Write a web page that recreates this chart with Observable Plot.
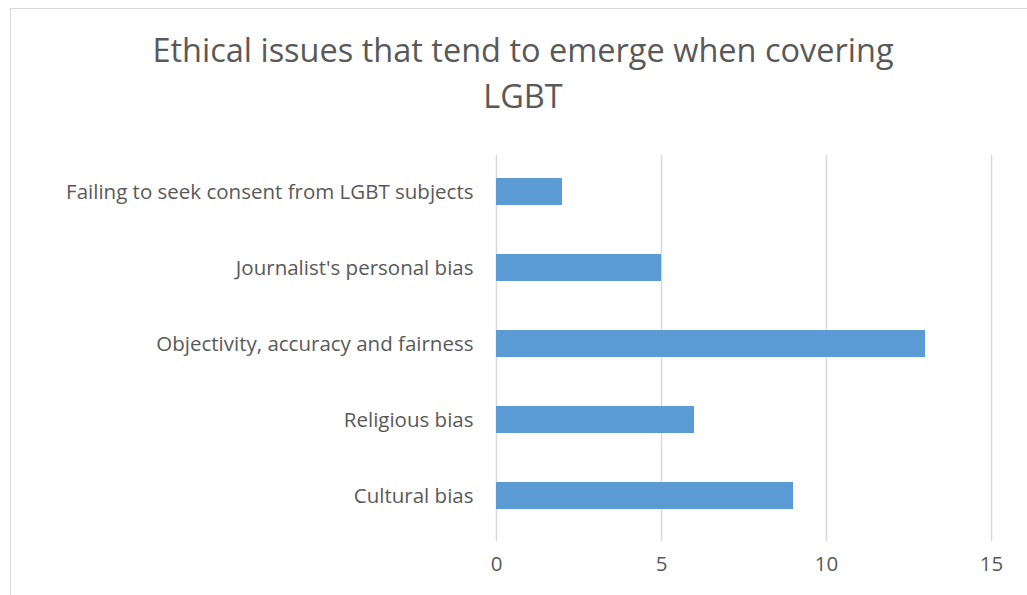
<!DOCTYPE html>
<html>
<head>
<meta charset="utf-8">
<script src="https://cdn.jsdelivr.net/npm/d3@7"></script>
<script src="https://cdn.jsdelivr.net/npm/@observablehq/plot@0.6"></script>
<style>
  html, body { margin: 0; padding: 0; background: #fff; }
  #wrap { position: relative; width: 1027px; height: 595px; overflow: hidden; font-family: "Open Sans", sans-serif; }
  #frame { position: absolute; left: 10px; top: 8px; width: 1200px; height: 800px; border-left: 1.5px solid #d9d9d9; border-top: 1.5px solid #d9d9d9; }
  #title { position: relative; height: 140px; width: 1046px; text-align: center; color: #595959; font-size: 32.5px; line-height: 46px; padding-top: 27px; box-sizing: border-box; }
  #chart { position: relative; }
</style>
</head>
<body>
<div id="wrap">
  <div id="frame"></div>
  <div id="title">Ethical issues that tend to emerge when covering<br>LGBT</div>
  <div id="chart"></div>
</div>
<script>
const categories = [
  "Failing to seek consent from LGBT subjects",
  "Journalist's personal bias",
  "Objectivity, accuracy and fairness",
  "Religious bias",
  "Cultural bias"
];
const values = [2, 5, 13, 6, 9];
const xTicks = [0, 5, 10, 15];

const data = categories.map((c, i) => ({category: c, value: values[i]}));

const chart = Plot.plot({
  width: 1027,
  height: 455,
  marginLeft: 496,
  marginRight: 36,
  marginTop: 15,
  marginBottom: 54,
  style: {fontFamily: "Open Sans, sans-serif", fontSize: "20.5px", color: "#595959", background: "transparent"},
  x: {domain: [0, 15], ticks: xTicks},
  y: {domain: categories, range: [13, 393], paddingInner: 0.645, paddingOuter: 0.3225},
  marks: [
    Plot.gridX(xTicks, {stroke: "#d9d9d9", strokeOpacity: 1, strokeWidth: 1.5}),
    Plot.barX(data, {x: "value", y: "category", fill: "#5B9BD5"}),
    Plot.axisX({ticks: xTicks, tickSize: 0, tickPadding: 15, label: null, fontSize: 20.5}),
    Plot.axisY({tickSize: 0, tickPadding: 23, label: null, fontSize: 20.5})
  ]
});
document.getElementById("chart").appendChild(chart);
</script>
</body>
</html>
